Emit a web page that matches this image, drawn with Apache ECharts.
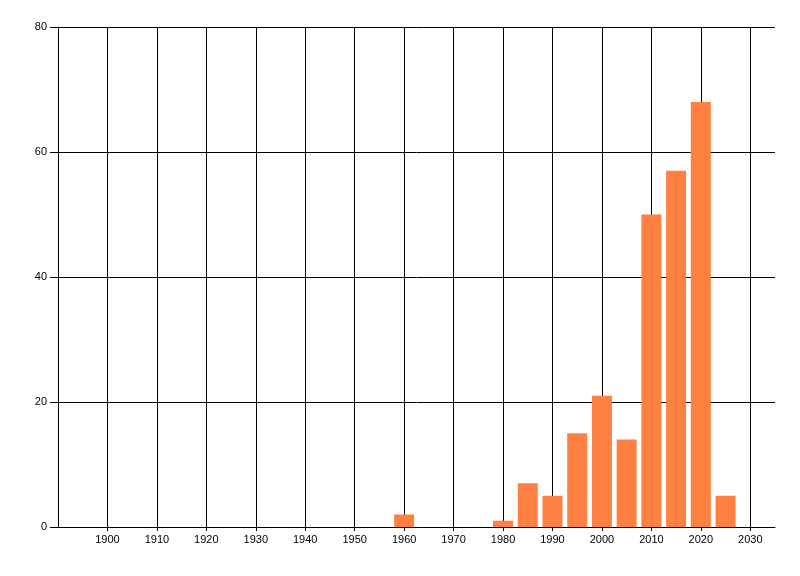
<!DOCTYPE html>
<html>
<head>
<meta charset="utf-8">
<script src="https://cdn.jsdelivr.net/npm/echarts@6/dist/echarts.min.js"></script>
<style>
  html, body { margin: 0; padding: 0; background: #fff; }
  #chart { width: 800px; height: 576px; }
</style>
</head>
<body>
<div id="chart"></div>
<script>
// data
const years = [1960, 1980, 1985, 1990, 1995, 2000, 2005, 2010, 2015, 2020, 2025];
const counts = [2, 1, 7, 5, 15, 21, 14, 50, 57, 68, 5];
const xTicks = [1900, 1910, 1920, 1930, 1940, 1950, 1960, 1970, 1980, 1990, 2000, 2010, 2020, 2030];

const myChart = echarts.init(document.getElementById('chart'));

const lineStyle = { color: '#000', width: 1 };
const labelStyle = { color: '#000', fontFamily: 'Liberation Sans, Arial, sans-serif', fontSize: 11 };

myChart.setOption({
    animation: false,
    grid: { left: 58, right: 25, top: 27, bottom: 49, containLabel: false },
    xAxis: {
        type: 'value',
        min: 1890,
        max: 2035,
        interval: 10,
        axisLine: { show: true, lineStyle: lineStyle },
        axisTick: { show: true, length: 4, lineStyle: lineStyle, customValues: xTicks },
        axisLabel: Object.assign({ margin: 7, customValues: xTicks, formatter: v => String(v) }, labelStyle),
        splitLine: { show: true, lineStyle: lineStyle }
    },
    yAxis: {
        type: 'value',
        min: 0,
        max: 80,
        interval: 20,
        axisLine: { show: true, lineStyle: lineStyle },
        axisTick: { show: true, length: 8, lineStyle: lineStyle },
        axisLabel: Object.assign({ margin: 11 }, labelStyle),
        splitLine: { show: true, lineStyle: lineStyle }
    },
    series: [{
        type: 'bar',
        barWidth: 20,
        itemStyle: { color: '#FF8040' },
        data: years.map((y, i) => [y, counts[i]])
    }]
});
</script>
</body>
</html>
